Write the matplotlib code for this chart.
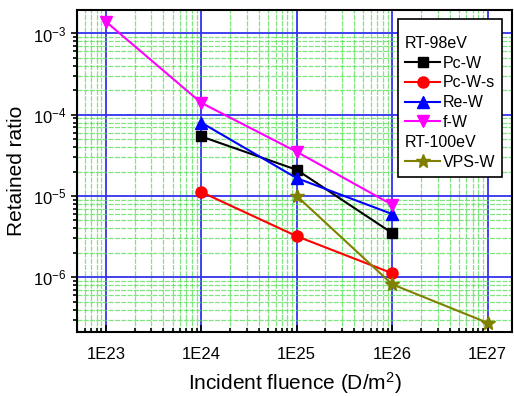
import numpy as np
import matplotlib
matplotlib.use('Agg')
import matplotlib.pyplot as plt
from matplotlib.ticker import LogLocator, FuncFormatter, NullFormatter
from matplotlib.lines import Line2D

plt.rcParams['font.family'] = ['Liberation Sans', 'DejaVu Sans']
plt.rcParams['mathtext.default'] = 'regular'

# incident fluence (D/m^2)
fluence = [1e23, 1e24, 1e25, 1e26, 1e27]

pcw_x = [1e24, 1e25, 1e26]
pcw_y = [5.4e-5, 2.1e-5, 3.5e-6]
pcws_x = [1e24, 1e25, 1e26]
pcws_y = [1.12e-5, 3.2e-6, 1.12e-6]
rew_x = [1e24, 1e25, 1e26]
rew_y = [8.0e-5, 1.66e-5, 6.0e-6]
fw_x = [1e23, 1e24, 1e25, 1e26]
fw_y = [1.4e-3, 1.4e-4, 3.5e-5, 7.8e-6]
vps_x = [1e25, 1e26, 1e27]
vps_y = [1.0e-5, 8.2e-7, 2.75e-7]

fig = plt.figure(figsize=(5.14, 3.96), dpi=100)
ax = fig.add_axes([0.150, 0.162, 0.846, 0.813])

lw = 1.5
ax.plot(pcw_x, pcw_y, '-s', color='black', lw=lw, ms=7, label='Pc-W', zorder=5)
ax.plot(pcws_x, pcws_y, '-o', color='red', lw=lw, ms=8, label='Pc-W-s', zorder=5)
ax.plot(rew_x, rew_y, '-^', color='blue', lw=lw, ms=8, label='Re-W', zorder=5)
ax.plot(fw_x, fw_y, '-v', color='magenta', lw=lw, ms=8, label='f-W', zorder=5)
ax.plot(vps_x, vps_y, '-*', color='#808000', lw=lw, ms=10, label='VPS-W', zorder=5)

ax.set_xscale('log')
ax.set_yscale('log')
ax.set_xlim(5e22, 1.8e27)
ax.set_ylim(2.13e-7, 1.95e-3)

ax.xaxis.set_major_locator(LogLocator(base=10, numticks=10))
ax.xaxis.set_minor_locator(LogLocator(base=10, subs=np.arange(2, 10), numticks=20))
ax.yaxis.set_major_locator(LogLocator(base=10, numticks=10))
ax.yaxis.set_minor_locator(LogLocator(base=10, subs=np.arange(2, 10), numticks=20))
ax.xaxis.set_major_formatter(FuncFormatter(lambda v, p: '1E%d' % int(round(np.log10(v)))))
ax.xaxis.set_minor_formatter(NullFormatter())
ax.yaxis.set_major_formatter(FuncFormatter(lambda v, p: r'$10^{%d}$' % int(round(np.log10(v)))))
ax.yaxis.set_minor_formatter(NullFormatter())

ax.grid(True, which='minor', color='#55dd55', ls=(0, (4, 1)), lw=0.9, alpha=0.75)
ax.grid(True, which='major', color='#3333ee', ls='-', lw=1.3)
ax.set_axisbelow(True)

ax.tick_params(axis='y', which='both', direction='out', labelsize=12, width=1.2)
ax.tick_params(axis='y', which='major', length=4)
ax.tick_params(axis='y', which='minor', length=3)
ax.tick_params(axis='x', which='both', direction='in', labelsize=12, width=1.2, pad=11)
ax.tick_params(axis='x', which='major', length=5)
ax.tick_params(axis='x', which='minor', length=3)
for s in ax.spines.values():
    s.set_linewidth(1.5)

ax.set_xlabel('Incident fluence (D/m$^2$)', fontsize=15, labelpad=6)
ax.set_ylabel('Retained ratio', fontsize=15, labelpad=5)

h, l = ax.get_legend_handles_labels()
blank = Line2D([], [], color='none')
handles = [blank] + h[:4] + [blank] + h[4:]
labels = ['RT-98eV'] + l[:4] + ['RT-100eV'] + l[4:]
leg = ax.legend(handles, labels, loc='upper right', bbox_to_anchor=(0.978, 0.972),
                fontsize=11.5, frameon=True, fancybox=False, edgecolor='black',
                framealpha=1, handlelength=2.2, handletextpad=0.15,
                borderpad=0.45, labelspacing=0.3, numpoints=1, borderaxespad=0,
                title=' ', title_fontsize=4)
leg.get_frame().set_linewidth(1.2)
# heading rows have no handle: collapse their handle boxes
col = leg._legend_handle_box.get_children()[0]
rows = col.get_children()
for i in (0, 5):
    rows[i].get_children()[0].width = 0
    rows[i].sep = 0

fig.savefig('out.png', dpi=100)
